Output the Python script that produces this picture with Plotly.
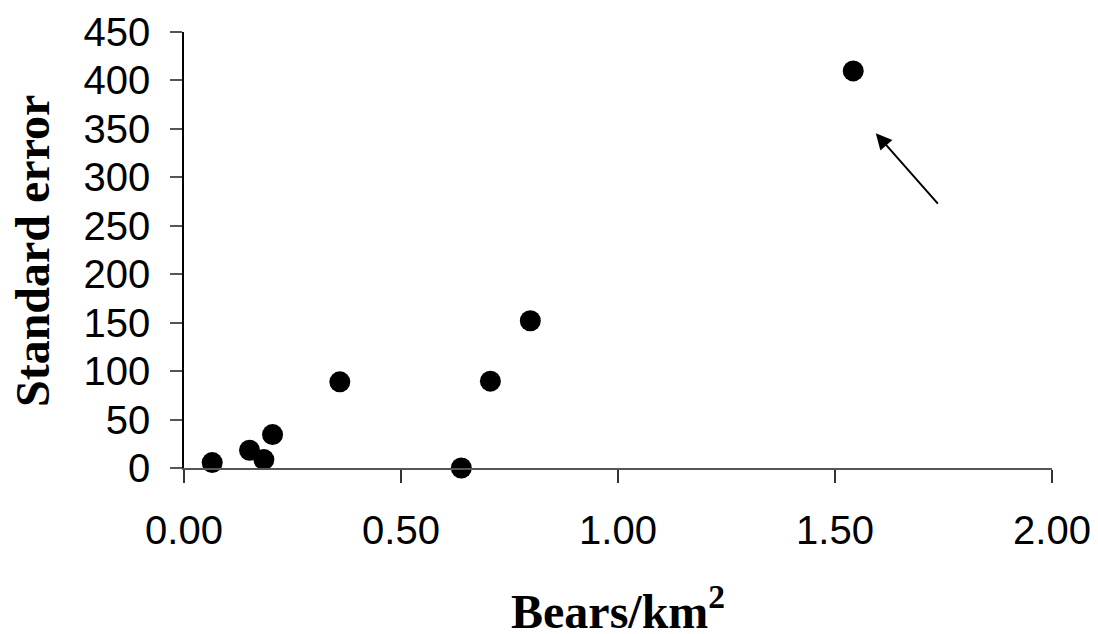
import plotly.graph_objects as go

bears_per_km2 = [0.065, 0.151, 0.184, 0.204, 0.359, 0.639, 0.706, 0.798, 1.542]
standard_error = [5.6, 18.3, 8.7, 34.5, 88.9, 0.0, 89.6, 152.0, 409.8]

x_ticks = [0.0, 0.5, 1.0, 1.5, 2.0]
x_tick_labels = ["0.00", "0.50", "1.00", "1.50", "2.00"]
y_ticks = [0, 50, 100, 150, 200, 250, 300, 350, 400, 450]

arrow_tail = (1.740, 271.4)
arrow_head = (1.594, 345.5)

W, H = 1098, 634
L, R, T, B = 184, 46, 32, 166
PW, PH = W - L - R, H - T - B


def px_to_paper(px, py):
    return (px - L) / PW, (H - B - py) / PH


fig = go.Figure()
fig.add_trace(go.Scatter(
    x=bears_per_km2, y=standard_error, mode="markers",
    marker=dict(size=21, color="black", line=dict(width=0)),
    cliponaxis=False, showlegend=False,
))

fig.add_annotation(
    x=arrow_head[0], y=arrow_head[1], ax=arrow_tail[0], ay=arrow_tail[1],
    xref="x", yref="y", axref="x", ayref="y",
    text="", showarrow=True, arrowhead=2, arrowsize=1.6, arrowwidth=2,
    arrowcolor="black", standoff=0, startstandoff=0,
)

title_font = dict(size=48, family="Liberation Serif, Times New Roman, serif", weight="bold", color="black")

yx, yy = px_to_paper(33, 251)
fig.add_annotation(text="Standard error", xref="paper", yref="paper", x=yx, y=yy,
                   xanchor="center", yanchor="middle", textangle=-90,
                   showarrow=False, font=title_font)

xx, xy = px_to_paper(618, 608)
fig.add_annotation(text="Bears/km<sup>2</sup>", xref="paper", yref="paper", x=xx, y=xy,
                   xanchor="center", yanchor="middle",
                   showarrow=False, font=title_font)

fig.update_layout(
    width=W, height=H,
    margin=dict(l=L, r=R, t=T, b=B),
    plot_bgcolor="white", paper_bgcolor="white",
    font=dict(family="Liberation Sans, Arial, sans-serif", color="black"),
    xaxis=dict(
        range=[0, 2], tickvals=x_ticks, ticktext=x_tick_labels, automargin=False,
        showgrid=False, zeroline=False, showline=True, linecolor="#555555", linewidth=1.5,
        ticks="outside", ticklen=13, tickwidth=1.5, tickcolor="#333333",
        tickfont=dict(size=40, family="Liberation Sans, Arial, sans-serif"),
        ticklabelstandoff=13,
    ),
    yaxis=dict(
        range=[0, 450], tickvals=y_ticks, automargin=False,
        showgrid=False, zeroline=False, showline=True, linecolor="black", linewidth=1.5,
        ticks="outside", ticklen=12, tickwidth=1.5, tickcolor="#555555",
        tickfont=dict(size=40, family="Liberation Sans, Arial, sans-serif"),
        ticklabelstandoff=12,
    ),
)

fig.write_html(
    "out.html",
    config={"displayModeBar": False},
    post_script="document.body.style.margin='0';document.body.style.overflow='hidden';",
)
